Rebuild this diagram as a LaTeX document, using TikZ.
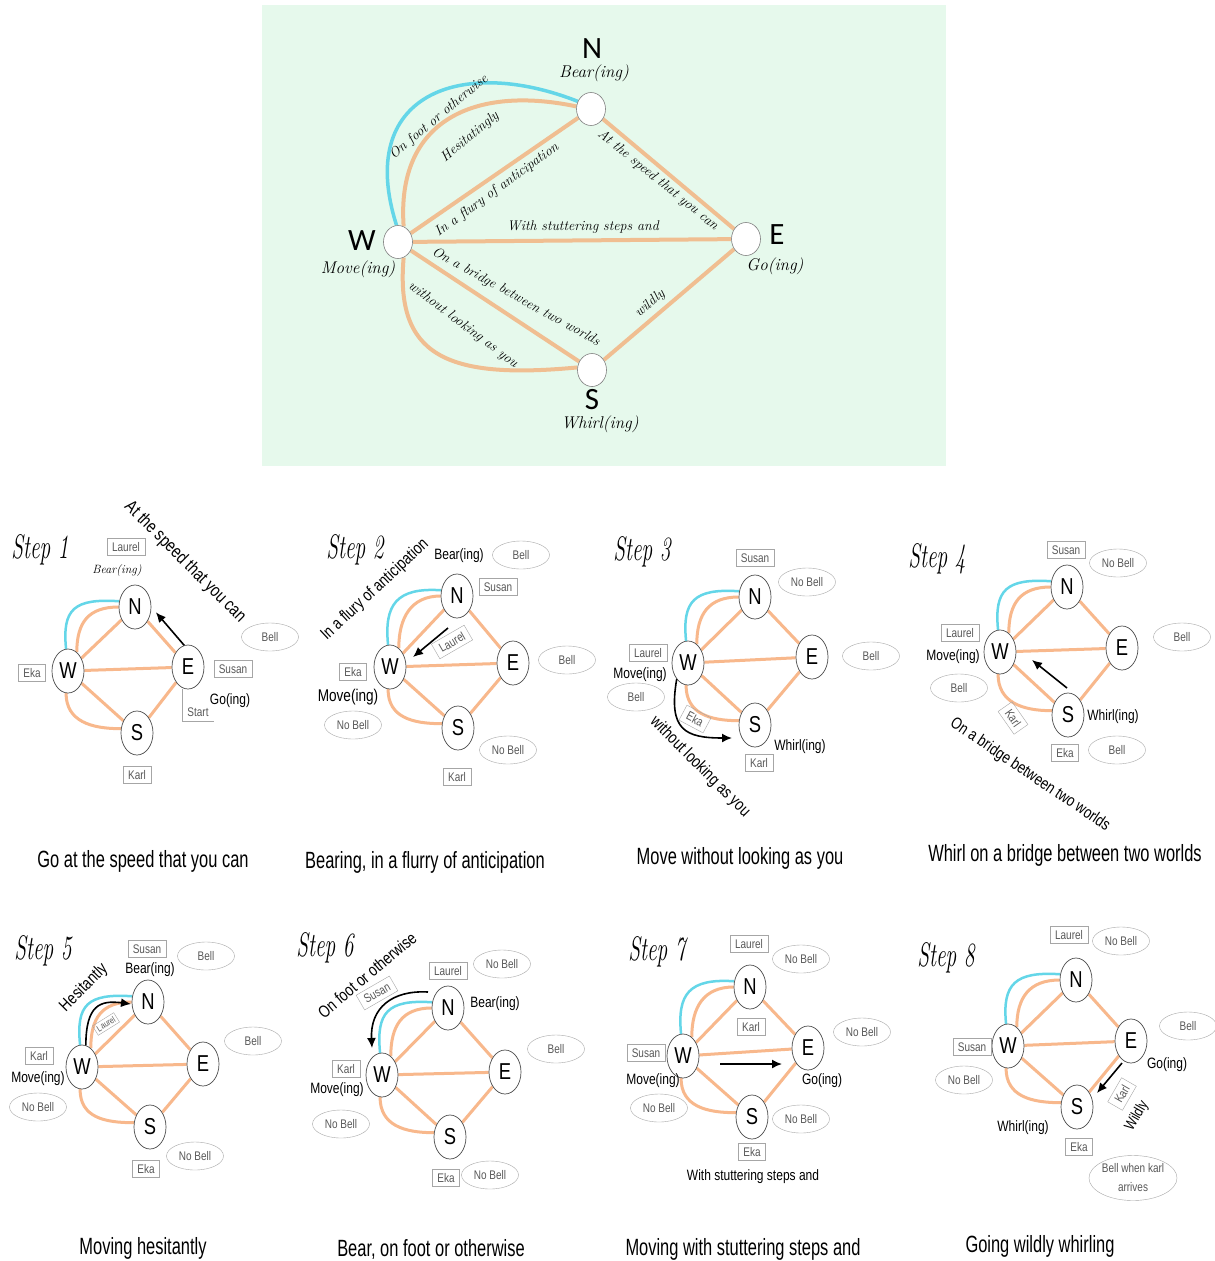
\documentclass[tikz,border=0pt]{standalone}
\usepackage{fontspec}
\usetikzlibrary{shapes.geometric,arrows.meta}
\newfontfamily\cond[FakeStretch=0.8]{Liberation Sans}
\newfontfamily\capf[FakeStretch=0.7]{Liberation Sans}
\newfontfamily\carl{Carlito}
\newcommand\hw{\rmfamily\itshape}
\newcommand\sttl[1]{\scalebox{0.63}[1]{#1}}
\definecolor{orE}{RGB}{248,184,140}
\definecolor{orT}{RGB}{240,190,145}
\definecolor{cyE}{RGB}{100,214,232}
\definecolor{bgG}{RGB}{230,249,236}
\pgfdeclarelayer{bg}
\pgfdeclarelayer{edges}
\pgfsetlayers{bg,edges,main}
\tikzset{
  tn/.style={ellipse,draw=black!50,fill=white,line width=0.6,minimum width=29,minimum height=33,inner sep=0},
  tl/.style={font=\carl\fontsize{31}{33}\selectfont},
  th/.style={font=\hw\fontsize{17}{19}\selectfont},
  tel/.style={font=\hw\fontsize{14}{16}\selectfont,inner sep=1},
  sn/.style={ellipse,draw=black!70,fill=white,line width=0.7,minimum width=32,minimum height=44,inner sep=0,font=\cond\fontsize{23}{25}\selectfont},
  pb/.style={rectangle,draw=black!35,text=black!65,font=\cond\fontsize{12.5}{14}\selectfont,inner xsep=5,inner ysep=3,minimum height=17},
  bl/.style={ellipse,draw=black!35,text=black!65,font=\cond\fontsize{12.5}{14}\selectfont,minimum width=57,minimum height=28,inner sep=0},
  lb/.style={font=\cond\fontsize{15}{17}\selectfont},
  lbig/.style={font=\cond\fontsize{17}{19}\selectfont},
  ttl/.style={font=\rmfamily\itshape\fontsize{34}{36}\selectfont},
  captxt/.style={font=\capf\fontsize{23.5}{26}\selectfont},
  oe/.style={draw=orE,line width=3},
  ot/.style={draw=orT,line width=4},
  ce/.style={draw=cyE,line width=2.5},
  ct/.style={draw=cyE,line width=3.5},
  ar/.style={-{Latex[length=10pt,width=9pt]},line width=1.6,black},
}
\newcommand\mygraph[5]{%
  \node[sn] (#1N) at (#2) {N};
  \node[sn] (#1W) at (#3) {W};
  \node[sn] (#1E) at (#4) {E};
  \node[sn] (#1S) at (#5) {S};
  \begin{pgfonlayer}{edges}
    \draw[oe] (#1W) -- (#1N);
    \draw[oe] (#1N) -- (#1E);
    \draw[oe] (#1W) -- (#1E);
    \draw[oe] (#1W) -- (#1S);
    \draw[oe] (#1S) -- (#1E);
    \draw[ce] (#1W.95) .. controls +(-4,-40) and +(-45,-3) .. (#1N.160);
    \draw[oe] (#1W.65) .. controls +(0,-30) and +(-30,0) .. (#1N.180);
    \draw[oe] (#1W.265) .. controls +(0,28) and +(-30,0) .. (#1S.165);
  \end{pgfonlayer}}
\begin{document}
\begin{tikzpicture}[x=1pt,y=-1pt]
\useasboundingbox (0,0) rectangle (1215,1261);
\begin{pgfonlayer}{bg}
  \fill[white] (0,0) rectangle (1215,1261);
  \fill[bgG] (262,5) rectangle (946,466);
\end{pgfonlayer}
% ---------- top panel ----------
\node[tn] (tN) at (591,109) {};
\node[tn] (tW) at (398,242) {};
\node[tn] (tE) at (746,239) {};
\node[tn] (tS) at (592,370) {};
\node[tl] (tNl) at (592,49) {N};
\node[th] (tNb) at (594,73) {Bear(ing)};
\node[tl] (tWl) at (362,241) {W};
\node[th] (tWb) at (358,269) {Move(ing)};
\node[tl] (tEl) at (777,235) {E};
\node[th] (tEb) at (775,266) {Go(ing)};
\node[tl] (tSl) at (592,400) {S};
\node[th] (tSb) at (600,424) {Whirl(ing)};
\begin{pgfonlayer}{edges}
  \draw[ot] (tW) -- (tN);
  \draw[ot] (tN) -- (tE);
  \draw[ot] (tW) -- (tE);
  \draw[ot] (tW) -- (tS);
  \draw[ot] (tS) -- (tE);
  \draw[ct] (tW.95) .. controls (355,95) and (460,55) .. (tN.150);
  \draw[ot] (tW.70) .. controls (396,120) and (475,85) .. (tN.170);
  \draw[ot] (tW.290) .. controls (395,355) and (445,380) .. (tS.170);
\end{pgfonlayer}
\node[tel,rotate=40] (l1) at (439,117) {On foot or otherwise};
\node[tel,rotate=40] (l2) at (470,137) {Hesitatingly};
\node[tel,rotate=36] (l3) at (497,190) {In a flury of anticipation};
\node[tel,rotate=-39] (l4) at (658,180) {At the speed that you can};
\node[tel] (l5) at (583,227) {With stuttering steps and};
\node[tel,rotate=-29] (l6) at (516,297) {On a bridge between two worlds};
\node[tel,rotate=-37] (l7) at (463,325) {without looking as you};
\node[tel,rotate=41] (l8) at (650,304) {wildly};
% ---------- step 1 ----------
\node[ttl] (t1) at (40,550) {\sttl{Step 1}};
\mygraph{s1}{135,607}{68,671}{188,667}{137,733}
\node[pb] (s1laurel) at (126,547) {Laurel};
\node[font=\hw\fontsize{12}{14}\selectfont] (s1bear) at (117,570) {Bear(ing)};
\node[font=\cond\fontsize{18}{20}\selectfont,rotate=-45] (s1txt) at (185,562) {At the speed that you can};
\node[bl] (s1bell) at (270,637) {Bell};
\node[pb] (s1eka) at (32,673) {Eka};
\node[pb] (s1susan) at (233,669) {Susan};
\node[lb] (s1go) at (230,701) {Go(ing)};
\node[pb,draw=none] (s1start) at (198,712) {Start};
\draw[black!35] (s1start.south east) -- (s1start.south west) -- (s1start.west |- s1E.south);
\node[pb] (s1karl) at (137,775) {Karl};
\draw[ar,shorten >=7pt] (s1E.100) -- (s1N.east);
\node[captxt] (c1) at (143,861) {Go at the speed that you can};
% ---------- step 2 ----------
\node[ttl] (t2) at (355,550) {\sttl{Step 2}};
\mygraph{s2}{457,596}{390,667}{513,663}{458,728}
\node[lbig,rotate=43] (s2txt) at (375,590) {In a flury of anticipation};
\node[lb] (s2bear) at (459,556) {Bear(ing)};
\node[bl] (s2bell1) at (521,555) {Bell};
\node[pb] (s2susan) at (498,587) {Susan};
\node[pb,rotate=30] (s2laurel) at (452,642) {Laurel};
\coordinate (s2a) at (448,628);
\coordinate (s2b) at (413,657);
\draw[ar] (s2a) -- (s2b);
\node[pb] (s2eka) at (353,672) {Eka};
\node[lbig] (s2move) at (348,697) {Move(ing)};
\node[bl] (s2nb1) at (353,725) {No Bell};
\node[bl] (s2bell2) at (567,660) {Bell};
\node[bl] (s2nb2) at (508,750) {No Bell};
\node[pb] (s2karl) at (457,777) {Karl};
\node[captxt] (c2) at (425,862) {Bearing, in a flurry of anticipation};
% ---------- step 3 ----------
\node[ttl] (t3) at (642,552) {\sttl{Step 3}};
\mygraph{s3}{755,597}{688,663}{812,657}{755,725}
\node[pb] (s3susan) at (755,558) {Susan};
\node[bl] (s3nb) at (807,582) {No Bell};
\node[bl] (s3bell1) at (871,656) {Bell};
\node[pb] (s3laurel) at (648,653) {Laurel};
\node[lb] (s3move) at (640,675) {Move(ing)};
\node[bl] (s3bell2) at (636,697) {Bell};
\node[pb,rotate=-28] (s3eka) at (695,719) {Eka};
\coordinate (s3b) at (732,738);
\draw[ar] (s3W.235) .. controls (668,730) and (685,738) .. (s3b);
\node[lbig,rotate=-45] (s3txt) at (700,767) {without looking as you};
\node[lb] (s3whirl) at (800,747) {Whirl(ing)};
\node[pb] (s3karl) at (759,763) {Karl};
\node[captxt] (c3) at (740,858) {Move without looking as you};
% ---------- step 4 ----------
\node[ttl] (t4) at (937,559) {\sttl{Step 4}};
\mygraph{s4}{1067,587}{1000,652}{1122,648}{1068,715}
\node[pb] (s4susan) at (1066,550) {Susan};
\node[bl] (s4nb) at (1118,563) {No Bell};
\node[bl] (s4bell1) at (1182,637) {Bell};
\node[pb] (s4laurel) at (960,633) {Laurel};
\node[lb] (s4move) at (953,657) {Move(ing)};
\node[bl] (s4bell2) at (959,688) {Bell};
\node[pb,rotate=-55] (s4karl) at (1013,718) {Karl};
\coordinate (s4a) at (1067,688);
\coordinate (s4b) at (1032,660);
\draw[ar] (s4a) -- (s4b);
\node[lb] (s4whirl) at (1113,717) {Whirl(ing)};
\node[pb] (s4eka) at (1065,753) {Eka};
\node[bl] (s4bell3) at (1117,750) {Bell};
\node[font=\cond\fontsize{16.5}{19}\selectfont,rotate=-34] (s4txt) at (1030,775) {On a bridge between two worlds};
\node[captxt] (c4) at (1065,855) {Whirl on a bridge between two worlds};
% ---------- step 5 ----------
\node[ttl] (t5) at (43,951) {\sttl{Step 5}};
\mygraph{s5}{148,1002}{82,1067}{203,1064}{150,1127}
\node[pb] (s5susan) at (147,949) {Susan};
\node[bl] (s5bell1) at (206,956) {Bell};
\node[lb] (s5bear) at (150,970) {Bear(ing)};
\node[bl] (s5bell2) at (253,1041) {Bell};
\node[pb] (s5karl) at (39,1056) {Karl};
\node[lb] (s5move) at (38,1079) {Move(ing)};
\node[bl] (s5nb1) at (38,1107) {No Bell};
\node[bl] (s5nb2) at (195,1156) {No Bell};
\node[pb] (s5eka) at (146,1169) {Eka};
\node[lbig,rotate=45] (s5txt) at (84,988) {Hesitantly};
\node[pb,rotate=32,font=\cond\fontsize{9}{10}\selectfont,minimum height=11,inner xsep=2.5,inner ysep=1.5] (s5laurel) at (106,1024) {Laurel};
\coordinate (s5b) at (131,1004);
\draw[ar] (s5W.80) .. controls (86,1005) and (100,1000) .. (s5b);
\node[captxt] (c5) at (143,1248) {Moving hesitantly};
% ---------- step 6 ----------
\node[ttl] (t6) at (325,948) {\sttl{Step 6}};
\mygraph{s6}{448,1008}{382,1075}{505,1072}{450,1137}
\node[lbig,rotate=40] (s6txt) at (367,975) {On foot or otherwise};
\node[pb,rotate=30] (s6susan) at (377,993) {Susan};
\node[pb] (s6laurel) at (448,971) {Laurel};
\node[bl] (s6nb1) at (502,964) {No Bell};
\node[lb] (s6bear) at (495,1004) {Bear(ing)};
\node[bl] (s6bell) at (556,1049) {Bell};
\node[pb] (s6karl) at (346,1069) {Karl};
\node[lb] (s6move) at (337,1090) {Move(ing)};
\node[bl] (s6nb2) at (341,1124) {No Bell};
\node[pb] (s6eka) at (446,1178) {Eka};
\node[bl] (s6nb3) at (490,1175) {No Bell};
\coordinate (s6a) at (428,992);
\coordinate (s6b) at (372,1048);
\draw[ar] (s6a) .. controls (392,990) and (370,1008) .. (s6b);
\node[captxt] (c6) at (431,1249) {Bear, on foot or otherwise};
% ---------- step 7 ----------
\node[ttl] (t7) at (657,952) {\sttl{Step 7}};
\mygraph{s7}{750,987}{683,1056}{808,1048}{752,1117}
\node[pb] (s7laurel) at (749,944) {Laurel};
\node[bl] (s7nb1) at (801,959) {No Bell};
\node[pb] (s7karl) at (751,1027) {Karl};
\node[bl] (s7nb2) at (862,1032) {No Bell};
\node[pb] (s7susan) at (646,1053) {Susan};
\node[lb] (s7move) at (653,1081) {Move(ing)};
\node[lb] (s7go) at (822,1081) {Go(ing)};
\node[bl] (s7nb3) at (659,1108) {No Bell};
\node[bl] (s7nb4) at (801,1119) {No Bell};
\node[pb] (s7eka) at (752,1152) {Eka};
\node[lb] (s7txt) at (753,1177) {With stuttering steps and};
\coordinate (s7a) at (720,1064);
\coordinate (s7b) at (782,1064);
\draw[ar] (s7a) -- (s7b);
\node[captxt] (c7) at (743,1249) {Moving with stuttering steps and};
% ---------- step 8 ----------
\node[ttl] (t8) at (946,958) {\sttl{Step 8}};
\mygraph{s8}{1076,980}{1008,1046}{1131,1041}{1077,1107}
\node[pb] (s8laurel) at (1069,935) {Laurel};
\node[bl] (s8nb1) at (1121,941) {No Bell};
\node[bl] (s8bell) at (1188,1026) {Bell};
\node[pb] (s8susan) at (972,1047) {Susan};
\node[bl] (s8nb2) at (964,1080) {No Bell};
\node[lb] (s8go) at (1167,1065) {Go(ing)};
\coordinate (s8a) at (1122,1063);
\coordinate (s8b) at (1097,1093);
\draw[ar] (s8a) -- (s8b);
\node[pb,rotate=60] (s8karl) at (1122,1094) {Karl};
\node[lb,rotate=60] (s8wild) at (1137,1116) {Wildly};
\node[lb] (s8whirl) at (1023,1128) {Whirl(ing)};
\node[pb] (s8eka) at (1079,1147) {Eka};
\node[bl,minimum width=80,minimum height=45,align=center,font=\cond\fontsize{12.5}{19}\selectfont] (s8bk) at (1133,1178) {Bell when karl\\arrives};
\node[captxt] (c8) at (1040,1246) {Going wildly whirling};
\end{tikzpicture}
\end{document}
